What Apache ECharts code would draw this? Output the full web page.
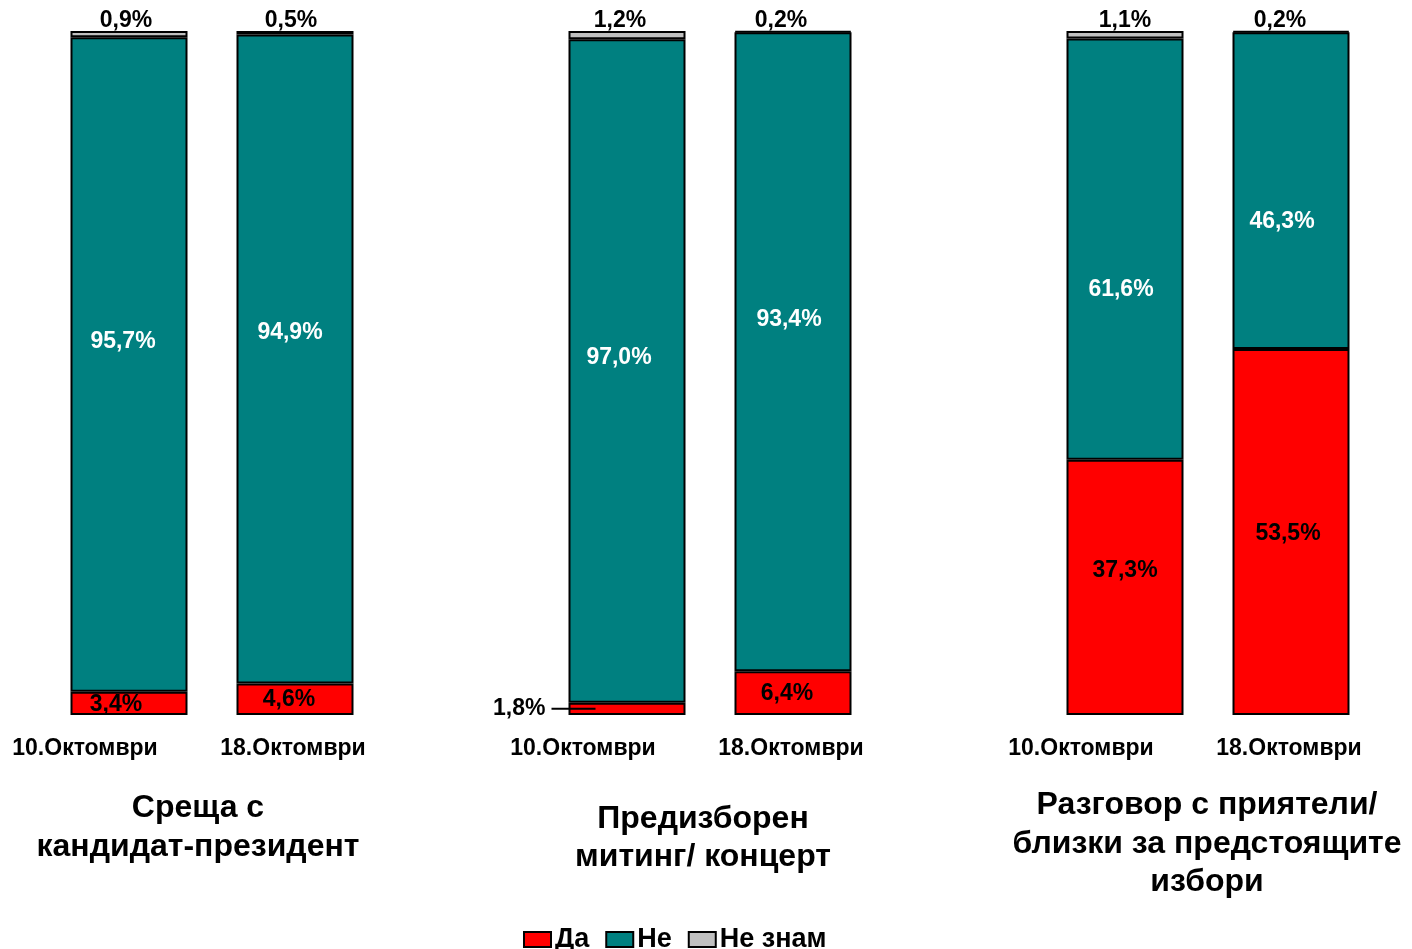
<!DOCTYPE html>
<html><head><meta charset="utf-8">
<script src="https://cdn.jsdelivr.net/npm/echarts@6/dist/echarts.min.js"></script>
<style>html,body{margin:0;padding:0;background:#fff}#c{width:1412px;height:949px}</style>
</head><body><div id="c"></div>
<script>
// categories (empty strings are spacer slots between the three groups)
const categories = ['10.Октомври','18.Октомври','','10.Октомври','18.Октомври','','10.Октомври','18.Октомври'];
const seriesNames = ['Да','Не','Не знам'];
const daValues    = [3.4, 4.6, null, 1.8, 6.4, null, 37.3, 53.5];
const neValues    = [95.7, 94.9, null, 97.0, 93.4, null, 61.6, 46.3];
const neZnamValues= [0.9, 0.5, null, 1.2, 0.2, null, 1.1, 0.2];
const groupTitles = ['Среща с\nкандидат-президент','Предизборен\nмитинг/ концерт','Разговор с приятели/\nблизки за предстоящите\nизбори'];

// label nudges (styling only)
const daShift = [[-13,1],[-6,0],null,null,[-6,1],null,[0,-17],[-3,2]];
const neShift = [[-6,-23],[-5,-26],null,[-8,-13],[-4,-32],null,[-4,40],[-9,31]];
const nzShift = [[-3,0],[-4,0],null,[-7,0],[-12,0],null,[0,0],[-11,0]];
const outsideIdx = 3; // Да label drawn outside with leader

const FONT = '"Liberation Sans", Arial, sans-serif';
const fmt = v => v.toFixed(1).replace('.', ',') + '%';

function items(vals, shifts, extra) {
  return vals.map((v, i) => {
    if (v === null) return { value: null, label: { show: false } };
    const it = { value: v, label: { offset: shifts[i] || [0,0] } };
    if (extra) extra(it, i);
    return it;
  });
}

const border = { borderColor: '#000', borderWidth: 2 };
const baseLabel = { show: true, fontFamily: FONT, fontWeight: 'bold', fontSize: 23, formatter: p => fmt(p.value) };
const titleStyle = (lh) => ({ fontFamily: FONT, fontWeight: 'bold', fontSize: 32, lineHeight: lh, color: '#000' });

const option = {
  animation: false,
  textStyle: { fontFamily: FONT },
  grid: { left: 46, right: 38, top: 31, bottom: 234 },
  xAxis: {
    type: 'category', data: categories,
    axisLine: { show: false }, axisTick: { show: false },
    axisLabel: {
      interval: 0, margin: 22, color: '#000',
      formatter: (v) => v ? (v.indexOf('10.') === 0 ? '{a|' + v + '}' : '{b|' + v + '}') : '',
      rich: {
        a: { fontFamily: FONT, fontWeight: 'bold', fontSize: 23, color: '#000', padding: [0, 88, 0, 0] },
        b: { fontFamily: FONT, fontWeight: 'bold', fontSize: 23, color: '#000', padding: [0, 4, 0, 0] }
      }
    }
  },
  yAxis: { type: 'value', min: 0, max: 100, show: false, splitLine: { show: false } },
  legend: {
    left: 518, top: 921, itemWidth: 27, itemHeight: 15, itemGap: 16,
    icon: 'rect',
    data: seriesNames,
    textStyle: { fontFamily: FONT, fontWeight: 'bold', fontSize: 27, color: '#000', padding: [0,0,0,-1] },
    itemStyle: { borderColor: '#000', borderWidth: 2 }
  },
  title: [
    { text: groupTitles[0], left: 193, top: 784, textAlign: 'center', textStyle: titleStyle(39) },
    { text: groupTitles[1], left: 698, top: 795, textAlign: 'center', textStyle: titleStyle(38) },
    { text: groupTitles[2], left: 1202, top: 781, textAlign: 'center', textStyle: titleStyle(38.5) }
  ],
  series: [
    {
      name: seriesNames[0], type: 'bar', stack: 's', barWidth: 117,
      itemStyle: Object.assign({ color: '#FF0000' }, border),
      label: Object.assign({}, baseLabel, { position: 'inside', color: '#000' }),
      data: items(daValues, daShift, (it, i) => {
        if (i === outsideIdx) {
          it.label = {
            position: 'left', distance: 0, offset: [27, 0],
            formatter: p => '{t|' + fmt(p.value) + '}{g|}{l|}',
            rich: {
              t: { fontFamily: FONT, fontWeight: 'bold', fontSize: 23, color: '#000' },
              g: { width: 6 },
              l: { width: 44, height: 2, backgroundColor: '#000' }
            }
          };
        }
      })
    },
    {
      name: seriesNames[1], type: 'bar', stack: 's', barWidth: 117,
      itemStyle: Object.assign({ color: '#008080' }, border),
      label: Object.assign({}, baseLabel, { position: 'inside', color: '#fff' }),
      data: items(neValues, neShift)
    },
    {
      name: seriesNames[2], type: 'bar', stack: 's', barWidth: 117,
      itemStyle: Object.assign({ color: '#C0C0C0' }, border),
      label: Object.assign({}, baseLabel, { position: 'top', distance: -1, color: '#000' }),
      data: items(neZnamValues, nzShift)
    }
  ]
};
const chart = echarts.init(document.getElementById('c'), null, { renderer: 'canvas' });
chart.setOption(option);
</script></body></html>
